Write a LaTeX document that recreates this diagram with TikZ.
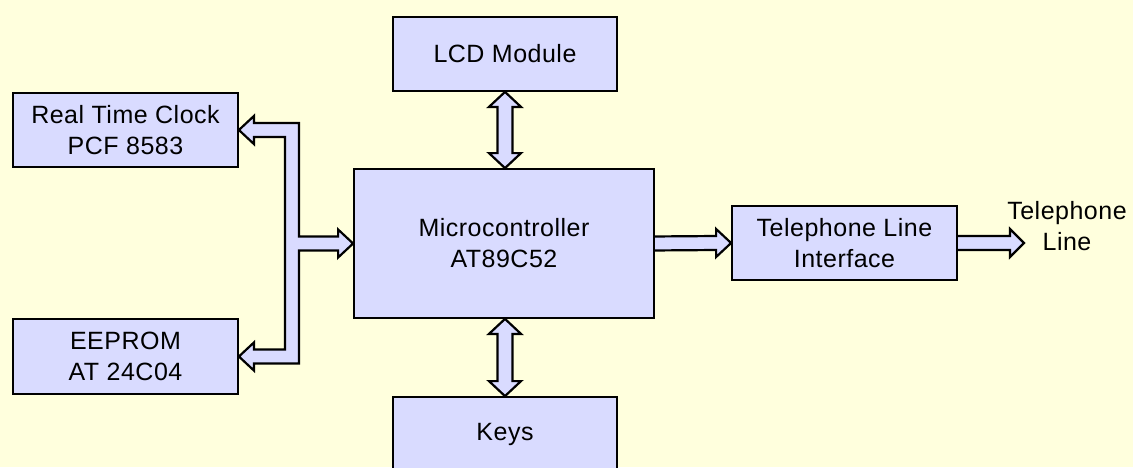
\documentclass[tikz,border=0pt]{standalone}
\usepackage{fontspec}
\setmainfont{Liberation Sans}[LetterSpace=2]
\usetikzlibrary{calc}
\definecolor{bgcol}{RGB}{255,255,221}
\definecolor{boxcol}{RGB}{217,219,255}
\pgfdeclarelayer{bg}
\pgfsetlayers{bg,main}
\begin{document}
\begin{tikzpicture}[x=1pt,y=-1pt,
  box/.style={draw=black, line width=1.8pt, fill=boxcol, inner sep=0pt,
    align=center, font=\fontsize{25}{31}\selectfont},
  barrow/.style={draw=black, line width=2.2pt, fill=boxcol, line join=miter},
  lbl/.style={inner sep=0pt, align=center, font=\fontsize{25}{31}\selectfont}]
\begin{pgfonlayer}{bg}
\fill[bgcol] (0,0) rectangle (1133,467);
\end{pgfonlayer}
\useasboundingbox (0,0) rectangle (1133,467);
% boxes
\node[box, minimum width=224pt, minimum height=74pt] (lcd) at (505,54) {LCD Module};
\node[box, minimum width=225pt, minimum height=74pt] (rtc) at (125.5,130) {Real Time Clock\\PCF 8583};
\node[box, minimum width=225pt, minimum height=75pt] (eep) at (125.5,356.5) {EEPROM\\AT 24C04};
\node[box, minimum width=300pt, minimum height=149pt] (mc) at (504,243.5) {Microcontroller\\AT89C52};
\node[box, minimum width=224pt, minimum height=74pt] (keys) at (505,434) {Keys};
\node[box, minimum width=225pt, minimum height=74pt] (tli) at (844.5,243) {Telephone Line\\Interface};
\node[lbl] (tel) at (1067,226.5) {Telephone\\Line};
\coordinate (tip) at (1024,243);
\coordinate (bus) at (292,244);
\begin{pgfonlayer}{bg}
% bus to RTC, EEPROM and microcontroller
\draw[barrow]
  ($(bus|-rtc.east)+(7,-7)$) -- ($(rtc.east)+(15,-7)$) -- ($(rtc.east)+(15,-14)$) -- (rtc.east)
  -- ($(rtc.east)+(15,14)$) -- ($(rtc.east)+(15,7)$) -- ($(bus|-rtc.east)+(-7,7)$)
  -- ($(bus|-eep.east)+(-7,-7)$) -- ($(eep.east)+(15,-7)$) -- ($(eep.east)+(15,-14)$) -- (eep.east)
  -- ($(eep.east)+(15,14)$) -- ($(eep.east)+(15,7)$) -- ($(bus|-eep.east)+(7,7)$)
  -- ($(bus|-mc.west)+(7,7)$) -- ($(mc.west)+(-15,7)$) -- ($(mc.west)+(-15,14)$) -- (mc.west)
  -- ($(mc.west)+(-15,-14)$) -- ($(mc.west)+(-15,-7)$) -- ($(bus|-mc.west)+(7,-7)$) -- cycle;
% LCD <-> microcontroller
\draw[barrow] (lcd.south) -- ($(lcd.south)+(16,15)$) -- ($(lcd.south)+(7.5,15)$)
  -- ($(lcd.south|-mc.north)+(7.5,-15)$) -- ($(lcd.south|-mc.north)+(16,-15)$)
  -- (lcd.south|-mc.north) -- ($(lcd.south|-mc.north)+(-16,-15)$)
  -- ($(lcd.south|-mc.north)+(-7.5,-15)$) -- ($(lcd.south)+(-7.5,15)$)
  -- ($(lcd.south)+(-16,15)$) -- cycle;
% microcontroller <-> keys
\draw[barrow] (keys.north|-mc.south) -- ($(keys.north|-mc.south)+(16,15)$) -- ($(keys.north|-mc.south)+(7.5,15)$)
  -- ($(keys.north)+(7.5,-15)$) -- ($(keys.north)+(16,-15)$)
  -- (keys.north) -- ($(keys.north)+(-16,-15)$)
  -- ($(keys.north)+(-7.5,-15)$) -- ($(keys.north|-mc.south)+(-7.5,15)$)
  -- ($(keys.north|-mc.south)+(-16,15)$) -- cycle;
% microcontroller -> telephone line interface
\draw[barrow] ($(mc.east)+(-4,-7)$) -- ($(tli.west)+(-15,-7)$) -- ($(tli.west)+(-15,-14)$) -- (tli.west)
  -- ($(tli.west)+(-15,14)$) -- ($(tli.west)+(-15,7)$) -- ($(mc.east)+(-4,7)$) -- cycle;
% interface -> telephone line
\draw[barrow] ($(tli.east)+(-4,-7)$) -- ($(tip)+(-14,-7)$) -- ($(tip)+(-14,-14)$) -- (tip)
  -- ($(tip)+(-14,14)$) -- ($(tip)+(-14,7)$) -- ($(tli.east)+(-4,7)$) -- cycle;
\end{pgfonlayer}
\end{tikzpicture}
\end{document}
